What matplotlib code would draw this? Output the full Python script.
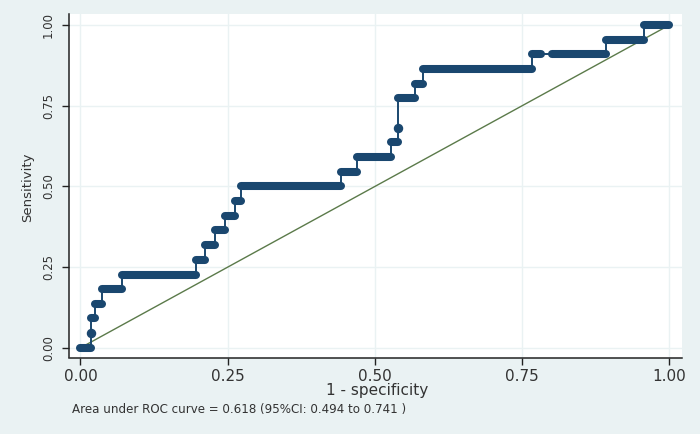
import matplotlib
matplotlib.use("Agg")
import matplotlib.pyplot as plt

# ROC data (22 positives)
sens = [0.000, 0.045, 0.091, 0.136, 0.182, 0.227, 0.273, 0.318, 0.364, 0.409, 0.455,
        0.500, 0.545, 0.591, 0.636, 0.682, 0.773, 0.818, 0.864, 0.909, 0.955, 1.000]
fpr_start = [0.000, 0.018, 0.018, 0.025, 0.036, 0.070, 0.196, 0.211, 0.229, 0.246, 0.263,
             0.272, 0.443, 0.470, 0.527, 0.539, 0.539, 0.568, 0.582, 0.766, 0.892, 0.957]
fpr_end = [0.018, 0.018, 0.025, 0.036, 0.070, 0.196, 0.211, 0.229, 0.246, 0.263, 0.272,
           0.443, 0.470, 0.527, 0.539, 0.539, 0.568, 0.582, 0.766, 0.892, 0.957, 1.000]
# small gap in the run of markers at sensitivity 0.909
gap_level = 0.909
gap_range = (0.782, 0.800)

ticks = [0.00, 0.25, 0.50, 0.75, 1.00]
tick_labels = ["0.00", "0.25", "0.50", "0.75", "1.00"]
xlabel = "1 - specificity"
ylabel = "Sensitivity"
note = "Area under ROC curve = 0.618 (95%CI: 0.494 to 0.741 )"

BG = "#eaf2f3"
NAVY = "#1a476f"
GREEN = "#5b7a4a"

fig = plt.figure(figsize=(7.0, 4.34), dpi=100, facecolor=BG)
ax = fig.add_axes([69 / 700, 1 - 357.5 / 434, 612.5 / 700, 343.5 / 434])
ax.set_facecolor("white")
ax.set_xlim(-0.0195, 1.0204)
ax.set_ylim(-0.030, 1.034)

# grid
for t in ticks:
    ax.axvline(t, color=BG, lw=1.0, zorder=0)
    ax.axhline(t, color=BG, lw=1.0, zorder=0)

# reference diagonal
ax.plot([0, 1], [0, 1], color=GREEN, lw=1.0, zorder=2)

# step path
xs, ys = [], []
for s, a, b in zip(sens, fpr_start, fpr_end):
    xs += [a, b]
    ys += [s, s]
ax.plot(xs, ys, color=NAVY, lw=1.4, zorder=3)

# marker runs (dense circles) as round-capped thick segments
bar_lw = 5.8
for s, a, b in zip(sens, fpr_start, fpr_end):
    if abs(b - a) < 1e-9:
        ax.plot([a], [s], "o", color=NAVY, ms=bar_lw, mec=NAVY, zorder=4)
        continue
    segs = [(a, b)]
    if abs(s - gap_level) < 1e-6:
        segs = [(a, gap_range[0]), (gap_range[1], b)]
    for x0, x1 in segs:
        ax.plot([x0, x1], [s, s], color=NAVY, lw=bar_lw, solid_capstyle="round", zorder=4)

# spines and ticks
for side in ["top", "right"]:
    ax.spines[side].set_visible(False)
for side in ["left", "bottom"]:
    ax.spines[side].set_color("#222222")
    ax.spines[side].set_linewidth(1.1)

ax.set_xticks(ticks)
ax.set_xticklabels(tick_labels, fontsize=11, color="#333333")
ax.set_yticks(ticks)
ax.set_yticklabels(tick_labels, fontsize=8.5, color="#333333", rotation=90, va="center")
ax.tick_params(axis="both", direction="out", length=5, width=1.0, color="#222222")
ax.tick_params(axis="x", pad=3)
ax.tick_params(axis="y", pad=5)

fig.text(377 / 700, 1 - 390 / 434, xlabel, ha="center", va="center", fontsize=11, color="#333333")
fig.text(28 / 700, 1 - 187 / 434, ylabel, ha="center", va="center", rotation=90,
         fontsize=9.5, color="#333333")
fig.text(72 / 700, 1 - 409 / 434, note, ha="left", va="center", fontsize=8.6, color="#333333")

fig.savefig("out.png", dpi=100, facecolor=BG)
